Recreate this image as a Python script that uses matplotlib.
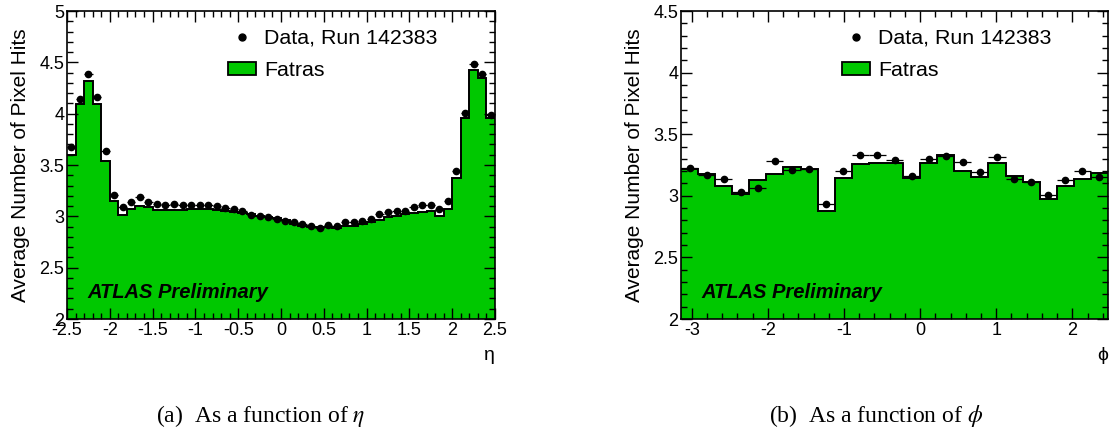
import numpy as np
import matplotlib
matplotlib.use("Agg")
import matplotlib.pyplot as plt
from matplotlib.lines import Line2D
from matplotlib.patches import Patch
from matplotlib.ticker import MultipleLocator, FormatStrFormatter

plt.rcParams["font.family"] = ["Liberation Sans", "DejaVu Sans"]
plt.rcParams["axes.unicode_minus"] = False
plt.rcParams["mathtext.fontset"] = "stix"

GREEN = "#00c800"

# eta: 50 bins of 0.1 from -2.5 to 2.5
eta_edges = np.linspace(-2.5, 2.5, 51)
eta_mc = [3.60, 4.09, 4.32, 4.09, 3.54, 3.15, 3.01, 3.075, 3.10, 3.095,
          3.065, 3.065, 3.065, 3.065, 3.07, 3.07, 3.07, 3.06, 3.05, 3.045,
          3.035, 3.02, 3.00, 2.99, 2.98, 2.965, 2.925, 2.91, 2.90, 2.895,
          2.90, 2.89, 2.91, 2.91, 2.925, 2.94, 2.965, 2.99, 3.00, 3.02,
          3.035, 3.045, 3.05, 3.00, 3.07, 3.37, 3.96, 4.43, 4.35, 3.96]
eta_data = [3.68, 4.14, 4.39, 4.16, 3.64, 3.21, 3.09, 3.14, 3.185, 3.14,
            3.12, 3.11, 3.12, 3.11, 3.11, 3.11, 3.11, 3.10, 3.08, 3.07,
            3.05, 3.01, 3.005, 2.995, 2.975, 2.95, 2.94, 2.925, 2.91, 2.89,
            2.92, 2.91, 2.94, 2.945, 2.955, 2.97, 3.02, 3.04, 3.05, 3.05,
            3.09, 3.11, 3.11, 3.075, 3.15, 3.445, 4.01, 4.48, 4.385, 3.99]

# phi: bins of 2pi/28 starting at -pi, 25 of them inside the frame
phi_edges = -np.pi + np.arange(26) * 2 * np.pi / 28
phi_mc = [3.215, 3.18, 3.08, 3.012, 3.128, 3.177, 3.237, 3.218, 2.877, 3.144,
          3.26, 3.269, 3.264, 3.142, 3.264, 3.328, 3.201, 3.15, 3.264, 3.163,
          3.115, 2.977, 3.082, 3.136, 3.182]
phi_data = [3.228, 3.17, 3.136, 3.03, 3.063, 3.285, 3.21, 3.218, 2.936, 3.20,
            3.328, 3.334, 3.29, 3.163, 3.299, 3.323, 3.274, 3.196, 3.315, 3.136,
            3.115, 3.004, 3.126, 3.201, 3.155]


def panel(ax, edges, mc, data, ylim, xmaj, xmin_, xlabel, leg_anchor):
    mc = np.array(mc)
    centers = 0.5 * (edges[:-1] + edges[1:])
    halfw = 0.5 * np.diff(edges)
    ax.stairs(mc, edges, baseline=0, fill=True, color=GREEN, lw=0)
    ax.stairs(mc, edges, baseline=None, color="black", lw=1.4)
    ax.errorbar(centers, data, xerr=halfw, fmt="o", color="black", ms=4.5,
                elinewidth=0.9, capsize=0)
    ax.set_xlim(edges[0], edges[-1])
    ax.set_ylim(*ylim)
    ax.xaxis.set_major_locator(MultipleLocator(xmaj))
    ax.xaxis.set_minor_locator(MultipleLocator(xmin_))
    ax.yaxis.set_major_locator(MultipleLocator(0.5))
    ax.yaxis.set_minor_locator(MultipleLocator(0.1))
    ax.xaxis.set_major_formatter(FormatStrFormatter("%g"))
    ax.yaxis.set_major_formatter(FormatStrFormatter("%g"))
    ax.tick_params(which="both", direction="in", top=True, right=True,
                   labelsize=13, width=1)
    ax.tick_params(which="major", length=8, pad=2)
    ax.tick_params(which="minor", length=4)
    for s in ax.spines.values():
        s.set_linewidth(1.2)
    ax.set_ylabel("Average Number of Pixel Hits", fontsize=15, labelpad=7)
    ax.set_xlabel(xlabel, fontsize=14, loc="right", labelpad=6)
    ax.text(0.047, 0.068, "ATLAS Preliminary", transform=ax.transAxes,
            fontsize=14.5, fontweight="bold", fontstyle="italic")
    handles = [Line2D([], [], marker="o", ls="none", color="black", ms=5),
               Patch(facecolor=GREEN, edgecolor="black", lw=1.3)]
    ax.legend(handles, ["Data, Run 142383", "Fatras"], loc="upper left",
              bbox_to_anchor=leg_anchor, bbox_transform=ax.figure.transFigure,
              frameon=False, fontsize=15.4, handlelength=1.3, handleheight=0.6,
              handletextpad=0.4, labelspacing=0.6, borderpad=0,
              borderaxespad=0)


fig = plt.figure(figsize=(11.13, 4.32), dpi=100)
ax1 = fig.add_axes([67 / 1113, 1 - 319 / 432, 428 / 1113, 308 / 432])
ax2 = fig.add_axes([681 / 1113, 1 - 319 / 432, 427 / 1113, 308 / 432])

panel(ax1, eta_edges, eta_mc, eta_data, (2, 5), 0.5, 0.1, "η",
      (228 / 1113, 1 - 29 / 432))
panel(ax2, phi_edges, phi_mc, phi_data, (2, 4.5), 1, 0.2, "ϕ",
      (842 / 1113, 1 - 29 / 432))

serif = ["Liberation Serif", "DejaVu Serif"]
fig.text(261 / 1113, 1 - 422 / 432, r"(a)  As a function of $\eta$",
         ha="center", va="baseline", fontsize=17, family=serif)
fig.text(876 / 1113, 1 - 422 / 432, r"(b)  As a function of $\phi$",
         ha="center", va="baseline", fontsize=17, family=serif)

fig.savefig("out.png", dpi=100)
